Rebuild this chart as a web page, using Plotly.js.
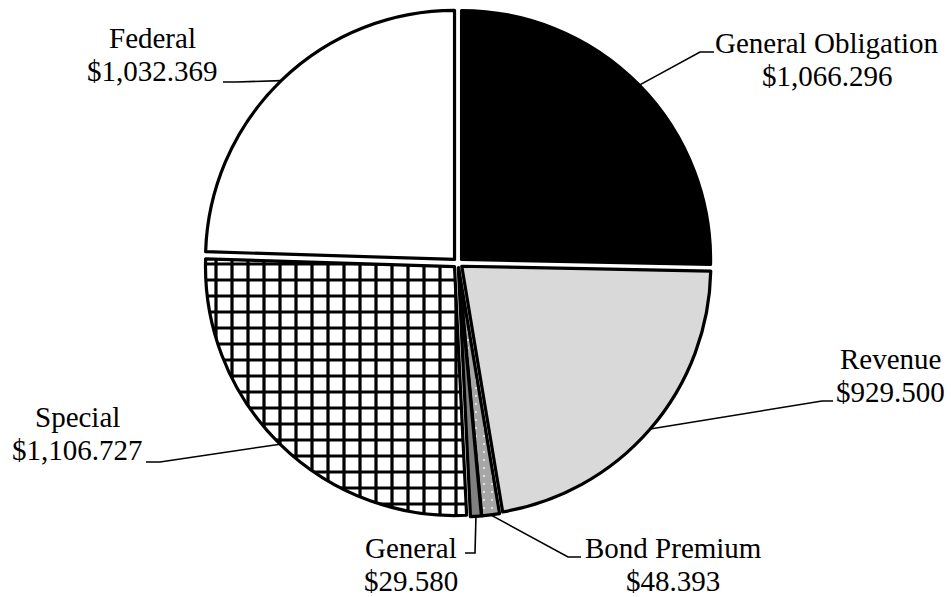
<!DOCTYPE html>
<html>
<head>
<meta charset="utf-8">
<script src="https://cdn.plot.ly/plotly-3.0.1.min.js"></script>
<style>html,body{margin:0;padding:0;background:#fff;}#chart{width:951px;height:597px;}</style>
</head>
<body>
<div id="chart"></div>
<script>
// ---- data ----
var categories = ['General Obligation', 'Revenue', 'Bond Premium', 'General', 'Special', 'Federal'];
var values = [1066.296, 929.500, 48.393, 29.580, 1106.727, 1032.369];
var sliceColors = ['#000000', '#d9d9d9', '#a6a6a6', '#808080', '#ffffff', '#ffffff'];
var patternShapes = ['', '', '.', '', '+', ''];

// ---- layout constants (pixels) ----
var W = 951, H = 597;
var dom = {x0: 204, x1: 712, y0: 9, y1: 517};
var pull = 0.02;
var cx = (dom.x0 + dom.x1) / 2, cy = (dom.y0 + dom.y1) / 2;
var R = (dom.y1 - dom.y0) / 2; // outer extent incl. pull

// label placement: text centre x, baseline of first line; leader elbow and end points
var labelPos = [
  {x: 827, b: 53,  elbow: [700, 52],  end: [714, 52]},
  {x: 890, b: 369, elbow: [822, 401], end: [833, 401]},
  {x: 673, b: 558, elbow: [568, 557], end: [581, 557]},
  {x: 411, b: 558, elbow: [475, 553], end: [465, 553]},
  {x: 77,  b: 427, elbow: [160, 462], end: [146, 462]},
  {x: 152, b: 48,  elbow: [236, 82],  end: [223, 82]}
];
var fontSize = 29, lineGap = 33;

function px(x) { return x / W; }
function py(y) { return 1 - y / H; }
function fmt(v) {
  var s = v.toFixed(3).split('.');
  s[0] = s[0].replace(/\B(?=(\d{3})+(?!\d))/g, ',');
  return '$' + s[0] + '.' + s[1];
}

var total = values.reduce(function (a, b) { return a + b; }, 0);
var annotations = [], shapes = [];
var cum = 0;
var font = {family: 'Liberation Serif, Times New Roman, serif', size: fontSize, color: '#000'};
for (var i = 0; i < values.length; i++) {
  var mid = (cum + values[i] / 2) / total * 2 * Math.PI;
  cum += values[i];
  var ax = cx + R * Math.sin(mid), ay = cy - R * Math.cos(mid);
  var L = labelPos[i];
  shapes.push({
    type: 'path', xref: 'paper', yref: 'paper',
    path: 'M' + px(ax) + ',' + py(ay) + ' L' + px(L.elbow[0]) + ',' + py(L.elbow[1]) + ' L' + px(L.end[0]) + ',' + py(L.end[1]),
    line: {color: '#000', width: 1.6}
  });
  annotations.push({xref: 'paper', yref: 'paper', x: px(L.x), y: py(L.b - 10), xanchor: 'center', yanchor: 'middle',
    showarrow: false, text: categories[i], font: font});
  annotations.push({xref: 'paper', yref: 'paper', x: px(L.x), y: py(L.b + lineGap - 10), xanchor: 'center', yanchor: 'middle',
    showarrow: false, text: fmt(values[i]), font: font});
}

var trace = {
  type: 'pie',
  labels: categories,
  values: values,
  sort: false,
  direction: 'clockwise',
  rotation: 0,
  pull: values.map(function () { return pull; }),
  textinfo: 'none',
  hoverinfo: 'none',
  domain: {x: [px(dom.x0), px(dom.x1)], y: [py(dom.y1), py(dom.y0)]},
  marker: {
    colors: sliceColors,
    line: {color: '#000', width: 3.2},
    pattern: {
      shape: patternShapes,
      bgcolor: sliceColors,
      fgcolor: ['#000', '#000', '#ffffff', '#000', '#000', '#000'],
      size: [8, 8, 8, 8, 16, 8],
      solidity: [0.3, 0.3, 0.04, 0.3, 0.36, 0.3]
    }
  }
};

var layout = {
  width: W, height: H,
  margin: {l: 0, r: 0, t: 0, b: 0},
  paper_bgcolor: '#fff',
  showlegend: false,
  hovermode: false,
  annotations: annotations,
  shapes: shapes
};

Plotly.newPlot('chart', [trace], layout, {displayModeBar: false, staticPlot: true});
</script>
</body>
</html>
